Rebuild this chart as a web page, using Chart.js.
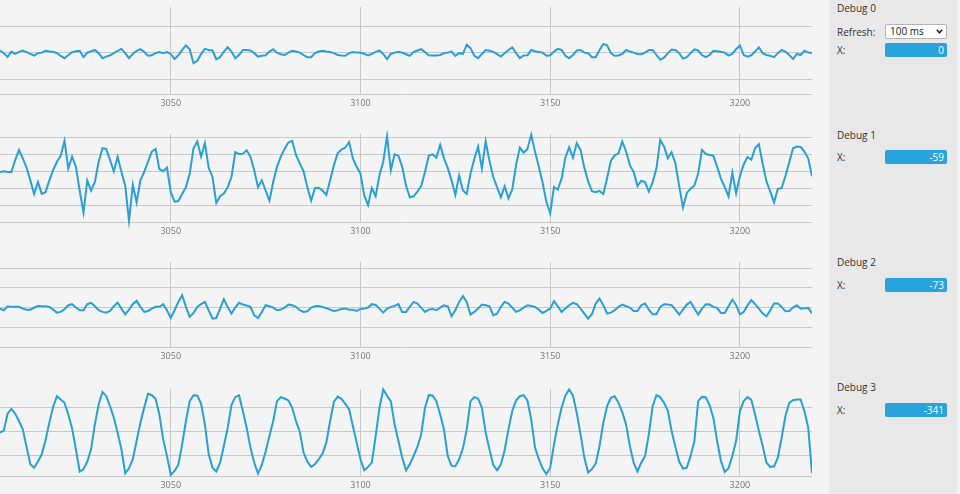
<!DOCTYPE html>
<html lang="en">
<head>
<meta charset="UTF-8">
<title>Debug scopes</title>
<script src="https://cdn.jsdelivr.net/npm/chart.js"></script>
<style>
  html, body { margin: 0; padding: 0; }
  body {
    width: 960px; height: 494px; overflow: hidden; position: relative;
    background: #f5f4f4; font-family: "Open Sans", sans-serif;
  }
  .scope { position: absolute; left: 0; width: 812px; }
  .panel { position: absolute; left: 829px; top: 0; width: 128px; height: 494px; background: #e8e8e8; }
  .txt { position: absolute; left: 8px; font-size: 10px; line-height: 14px; color: #333; white-space: nowrap; }
  .readout {
    position: absolute; left: 56px; width: 62px; height: 14px; box-sizing: border-box;
    background: #29a3dd; border-radius: 2px; color: #fff; font-size: 10px;
    line-height: 14px; text-align: right; padding-right: 3px;
  }
  .select {
    position: absolute; left: 56px; top: 24px; width: 62px; height: 15px; box-sizing: border-box;
    background: #fff; border: 1px solid #b5b5b5; border-radius: 2px;
    font-size: 10px; line-height: 13px; color: #222; padding-left: 4px;
  }
  .select svg { position: absolute; right: 3px; top: 4px; }
</style>
</head>
<body>

<div id="scopes"></div>

<div class="panel" id="panel">
  <div class="txt" style="top:25px">Refresh:</div>
  <div class="select">100 ms
    <svg width="7" height="5" viewBox="0 0 7 5"><polyline points="0.8,0.8 3.5,3.8 6.2,0.8" fill="none" stroke="#222" stroke-width="1.5"/></svg>
  </div>
</div>

<script>
  // samples start at 3005, one per step
  const xStart = 3005;
  const xMin = 3005;
  const xMax = 3219;
  const xTicks = [3050, 3100, 3150, 3200];

  const scopeNames = ["Debug 0", "Debug 1", "Debug 2", "Debug 3"];
  const readouts = [0, -59, -73, -341];

  const debug0 = [
    9, -1, -15, 5, -4, 4, 9, 3, -4, -10,
    -1, 1, 8, 5, 4, -1, -11, -20, -8, 3,
    6, 8, -16, 1, 6, 11, -1, -20, -14, -9,
    -1, 8, 15, -1, -20, -4, 8, 14, 4, -11,
    -9, -1, 3, -1, 3, -4, -23, -9, 11, 28,
    14, -39, -30, -4, 15, 11, 9, -24, -16, 5,
    21, 5, -20, -8, 11, 11, 9, -1, -14, -11,
    -9, 5, 14, 1, -5, -8, 1, 8, 5, 1,
    -8, -16, -16, -1, 5, 8, 5, 3, -1, -8,
    -10, -11, -1, 3, 1, 1, -4, -10, -4, 4,
    9, -4, -23, -4, 1, 4, 1, -5, -11, 3,
    9, 14, 3, -9, -10, -10, -8, -1, 1, 5,
    -11, -1, -4, 30, 18, -11, -20, -4, 11, 8,
    4, -5, -14, -1, 11, 21, -1, -20, -10, -9,
    11, 6, 3, 1, -11, -9, 5, 15, 11, -11,
    -20, -8, 9, 11, 1, -1, -16, -16, 11, 34,
    29, -1, -11, -10, -4, 11, 5, 1, -4, -5,
    1, 11, 11, -8, -26, -18, -1, 13, 11, -1,
    -21, -16, -1, 13, 9, -8, -16, -8, 8, 6,
    4, 1, -10, -4, 14, 28, -8, -14, -9, 5,
    21, -1, -8, -11, -16, -1, 11, 5, -8, -23,
    -4, -8, 8, 1, 0
  ];

  const debug1 = [
    -8, 0, -8, -8, 132, 252, 152, 44, -108, -268,
    -128, -268, -248, -108, 12, 112, 184, 360, 32, 172,
    52, -228, -488, -108, -228, -128, 112, 272, 264, 132,
    0, 172, -8, -168, -588, -160, -368, -108, -8, 112,
    232, 264, 24, 0, 44, -248, -360, -352, -268, -188,
    -28, 272, 352, 172, 332, 40, -68, -376, -296, -264,
    -188, -68, 224, 204, 208, 248, 172, 12, -188, -108,
    -228, -348, -128, 52, 172, 264, 340, 360, 192, 92,
    0, -188, -348, -200, -196, -228, -280, -108, 72, 212,
    256, 280, 344, 152, 52, -28, -288, -400, -200, -296,
    -48, 112, 412, 12, 200, 184, 52, -168, -308, -296,
    -240, -176, -8, 184, 200, 160, 312, 152, 40, -108,
    -280, -48, -228, -268, -28, 144, 292, 32, 352, 120,
    -68, -188, -308, -176, -320, -216, 72, 280, 220, 264,
    432, 232, 52, -136, -360, -496, -188, -216, -88, 160,
    284, 160, 332, 252, 40, -120, -236, -248, -232, -268,
    -80, 124, 188, 212, 352, 232, 72, -8, -176, -112,
    -128, -240, -128, 32, 372, 292, 152, 224, 92, -176,
    -428, -256, -208, -168, -28, 252, 204, 192, 184, 52,
    -88, -188, -296, -16, -260, -56, 80, 168, 136, 272,
    320, 88, -120, -240, -368, -208, -200, -56, 104, 272,
    292, 288, 232, 152, -59
  ];

  const debug2 = [
    -13, -34, 17, 9, 9, 9, -13, -26, -26, 0,
    21, 17, 17, 9, -26, -64, -55, -21, 30, 43,
    0, -34, -34, 43, 60, 17, -34, -55, -64, -43,
    17, 64, -13, -85, -26, 43, 85, 9, -55, -43,
    -13, 9, 9, 43, -34, -132, -34, 72, 157, 9,
    -119, -68, 9, 43, 72, -34, -140, -132, -13, 106,
    9, -77, 0, 60, 38, 26, 9, -98, -132, -55,
    30, 17, 0, -34, -26, 0, 38, 30, 9, -34,
    -55, -47, 0, 17, 21, 9, -9, -26, -43, -34,
    -17, -13, -26, -26, -43, -17, -13, 0, 43, 34,
    -13, -64, -13, 9, 21, 43, -55, -55, 9, 72,
    51, 0, -55, -26, -17, -34, 0, 30, 17, -111,
    -34, 72, 145, 72, -89, -55, -13, 38, 30, 17,
    -98, -77, 9, 72, 51, 0, -55, -34, 0, 30,
    21, 9, -26, -68, -43, -13, 81, 17, -55, -13,
    30, 60, 43, -13, -77, -140, -85, 51, 115, 30,
    -77, -64, -34, 9, 38, 17, 0, -43, -43, 30,
    51, -26, -85, -85, 9, 43, 38, 30, -26, -89,
    -26, 38, 72, -13, -89, -13, 43, 38, 9, -4,
    -68, -68, 17, 102, 30, -85, -55, 30, 94, 43,
    -13, -77, -111, -34, 51, 51, 9, -47, -43, 0,
    30, -13, -9, -4, -73
  ];

  const debug3 = [
    -8, 11, 148, 189, 148, 88, 19, -126, -268, -296,
    -246, -186, -71, 74, 205, 293, 265, 238, 142, 27,
    -145, -328, -309, -246, -145, 60, 224, 328, 293, 211,
    115, -8, -145, -342, -301, -227, -77, 74, 197, 312,
    301, 271, 142, -63, -200, -356, -323, -274, -104, 88,
    252, 301, 298, 230, 60, -186, -296, -328, -255, -118,
    33, 219, 285, 301, 170, 33, -131, -255, -345, -274,
    -164, -36, 88, 252, 285, 274, 257, 197, 88, 0,
    -172, -246, -290, -268, -227, -181, -90, 88, 246, 290,
    271, 230, 186, 47, -90, -227, -318, -290, -255, -36,
    197, 348, 296, 252, 60, -77, -213, -318, -268, -200,
    -126, -22, 197, 301, 298, 252, 142, 19, -200, -282,
    -285, -227, -137, 19, 252, 285, 274, 197, -8, -145,
    -274, -318, -268, -153, 19, 170, 257, 293, 301, 257,
    101, -131, -227, -301, -350, -296, -104, 60, 197, 298,
    348, 298, 156, -22, -213, -337, -309, -263, -118, 74,
    211, 279, 293, 238, 161, 60, -118, -255, -328, -255,
    -200, -22, 211, 301, 285, 238, 175, 5, -126, -246,
    -304, -296, -200, -77, 252, 287, 285, 219, 115, -77,
    -241, -331, -301, -200, -77, 170, 252, 285, 263, 142,
    5, -118, -255, -290, -285, -213, -49, 129, 238, 260,
    265, 265, 170, 33, -341
  ];

  const series = [debug0, debug1, debug2, debug3];
  const yMins = [-155, -600, -500, -365];
  const yMaxs = [173, 440, 578, 352];
  const yTicks = [
    [-100, 0, 100],
    [-400, -200, 0, 200, 400],
    [-250, 0, 250, 500],
    [-200, 0, 200]
  ];

  // page layout (pixels)
  const scopeBoxes = [
    { top: 3, height: 109 },
    { top: 130, height: 110 },
    { top: 258, height: 107 },
    { top: 385, height: 109 }
  ];
  const titleY = [1, 128, 255, 380];
  const readoutY = [43, 150, 278, 403];

  const lineColor = "#28a0d4";
  const gridColor = "#c8c8c8";

  function makeScope(canvas, values, yMin, yMax, ticks) {
    return new Chart(canvas, {
      type: "line",
      data: {
        datasets: [{
          data: values.map((v, i) => ({ x: xStart + i, y: v })),
          borderColor: lineColor,
          borderWidth: 2,
          pointRadius: 0,
          tension: 0,
          clip: 6
        }]
      },
      options: {
        animation: false,
        responsive: true,
        maintainAspectRatio: false,
        layout: { padding: { top: 4, left: 0, right: 0, bottom: 0 } },
        plugins: { legend: { display: false }, tooltip: { enabled: false } },
        scales: {
          x: {
            type: "linear",
            min: xMin,
            max: xMax,
            afterBuildTicks: s => { s.ticks = xTicks.map(v => ({ value: v })); },
            afterFit: s => { s.height = 18; },
            ticks: {
              color: "#777",
              font: { family: "Open Sans", size: 9 },
              padding: 4,
              maxRotation: 0,
              callback: v => String(v)
            },
            grid: { color: gridColor, drawTicks: false },
            border: { color: gridColor }
          },
          y: {
            min: yMin,
            max: yMax,
            afterBuildTicks: s => { s.ticks = ticks.map(v => ({ value: v })); },
            afterFit: s => { s.width = 0; },
            ticks: { display: false },
            grid: { color: gridColor, drawTicks: false },
            border: { display: false }
          }
        }
      }
    });
  }

  const scopes = document.getElementById("scopes");
  const panel = document.getElementById("panel");

  series.forEach((values, n) => {
    const box = document.createElement("div");
    box.className = "scope";
    box.style.top = scopeBoxes[n].top + "px";
    box.style.height = scopeBoxes[n].height + "px";
    const canvas = document.createElement("canvas");
    box.appendChild(canvas);
    scopes.appendChild(box);
    makeScope(canvas, values, yMins[n], yMaxs[n], yTicks[n]);

    const title = document.createElement("div");
    title.className = "txt";
    title.style.top = titleY[n] + "px";
    title.textContent = scopeNames[n];
    panel.appendChild(title);

    const xl = document.createElement("div");
    xl.className = "txt";
    xl.style.top = readoutY[n] + "px";
    xl.textContent = "X:";
    panel.appendChild(xl);

    const bar = document.createElement("div");
    bar.className = "readout";
    bar.style.top = readoutY[n] + "px";
    bar.textContent = readouts[n];
    panel.appendChild(bar);
  });
</script>
</body>
</html>
